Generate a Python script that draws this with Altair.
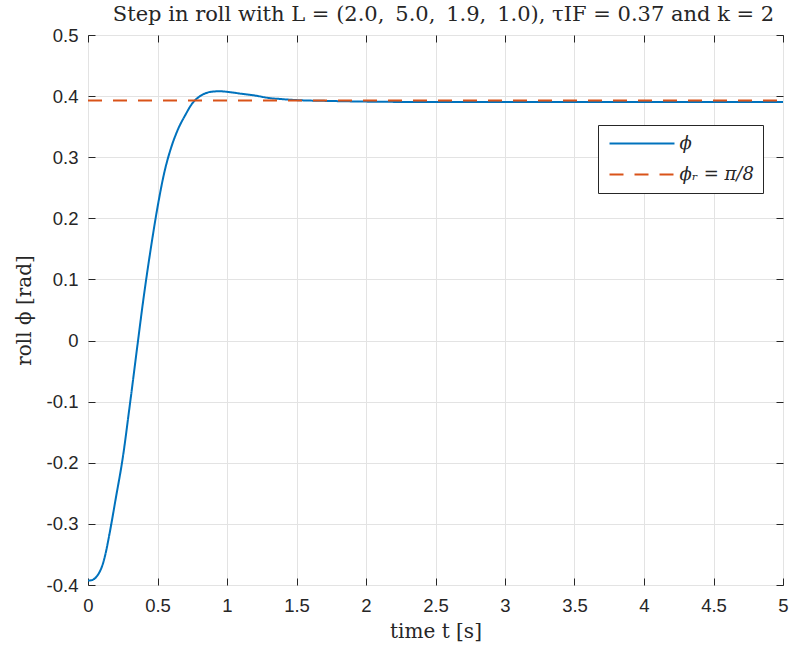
import math
import altair as alt
import pandas as pd

# ---- data ----
t_phi = [0.0, 0.025, 0.05, 0.075, 0.1, 0.125, 0.15, 0.2, 0.25, 0.3, 0.36, 0.4, 0.45,
         0.5, 0.55, 0.6, 0.65, 0.7, 0.75, 0.8, 0.85, 0.9, 0.95, 1.0, 1.1, 1.2, 1.3,
         1.4, 1.5, 1.75, 2.0, 2.5, 3.0, 3.5, 4.0, 4.5, 5.0]
phi = [-0.3927, -0.3922, -0.389, -0.382, -0.370, -0.350, -0.322, -0.258, -0.192,
       -0.107, 0.0, 0.07, 0.148, 0.218, 0.276, 0.317, 0.347, 0.369, 0.388, 0.399,
       0.405, 0.4075, 0.408, 0.407, 0.404, 0.401, 0.397, 0.395, 0.3935, 0.392, 0.391,
       0.3903, 0.3903, 0.3905, 0.3905, 0.3905, 0.3905]
t_ref = [0.0, 5.0]
phi_ref = [math.pi / 8, math.pi / 8]
series_names = ["ϕ", "ϕᵣ = π/8"]
series_colors = ["#0072BD", "#D95319"]
x_ticks = [0, 0.5, 1, 1.5, 2, 2.5, 3, 3.5, 4, 4.5, 5]
y_ticks = [-0.4, -0.3, -0.2, -0.1, 0, 0.1, 0.2, 0.3, 0.4, 0.5]
title_text = ("Step in roll with L = (2.0,\u2009 5.0,\u2009 1.9,\u2009 1.0), "
              "τIF = 0.37 and k = 2")
x_title = "time t [s]"
y_title = "roll ϕ [rad]"

df = pd.DataFrame({
    "t": t_phi + t_ref,
    "v": phi + phi_ref,
    "s": [series_names[0]] * len(t_phi) + [series_names[1]] * len(t_ref),
})

W, H = 695, 550
SERIF = "DejaVu Serif"
SANS = "Liberation Sans"
AX = "#262626"
GRID = "#e3e3e3"

xs = alt.Scale(domain=[0, 5], nice=False, zero=False)
ys = alt.Scale(domain=[-0.4, 0.5], nice=False, zero=False)
lab = "datum.value < -0.001 ? '-' + format(-datum.value, '.1~f') : format(abs(datum.value), '.1~f')"

main = alt.Chart(df).mark_line(strokeWidth=2, interpolate="monotone").encode(
    x=alt.X("t:Q", scale=xs, axis=alt.Axis(
        orient="bottom", values=x_ticks, grid=True, gridColor=GRID, domain=False,
        ticks=False, labelFont=SANS, labelFontSize=18.5, labelColor=AX, labelPadding=11,
        labelFlush=False, labelExpr=lab,
        title=x_title, titleFont=SERIF, titleFontSize=20,
        titleFontWeight="normal", titleColor=AX, titlePadding=7)),
    y=alt.Y("v:Q", scale=ys, axis=alt.Axis(
        orient="left", values=y_ticks, grid=True, gridColor=GRID, domain=False,
        ticks=False, labelFont=SANS, labelFontSize=18.5, labelColor=AX, labelPadding=10,
        labelExpr=lab, title=y_title, titleFont=SERIF, titleFontSize=20,
        titleFontWeight="normal", titleColor=AX, titlePadding=12)),
    color=alt.Color("s:N", scale=alt.Scale(domain=series_names, range=series_colors),
                    legend=alt.Legend(
                        orient="none", legendX=510, legendY=90, title=None,
                        symbolType="M-4,0L4,0", symbolSize=264, symbolStrokeWidth=2,
                        symbolOffset=25.5, labelOffset=28,
                        labelFont=SERIF, labelFontSize=18, labelColor=AX,
                        labelFontStyle="italic",
                        fillColor="white", strokeColor=AX, padding=9,
                        rowPadding=12)),
    strokeDash=alt.StrokeDash("s:N", scale=alt.Scale(domain=series_names,
                                                     range=[[1, 0], [14, 11]])),
)


def tick_layer(xo, yo):
    return alt.Chart(df).mark_line(opacity=0).encode(
        x=alt.X("t:Q", scale=xs, axis=alt.Axis(
            orient=xo, offset=-H, values=x_ticks, grid=False, domain=False, labels=False,
            ticks=True, tickSize=7, tickColor=AX, title=None)),
        y=alt.Y("v:Q", scale=ys, axis=alt.Axis(
            orient=yo, offset=-W, values=y_ticks, grid=False, domain=False, labels=False,
            ticks=True, tickSize=7, tickColor=AX, title=None)),
    )


chart = alt.layer(main, tick_layer("top", "right"), tick_layer("bottom", "left")).resolve_axis(
    x="independent", y="independent"
).properties(
    width=W, height=H,
    autosize=alt.AutoSizeParams(type="none"),
    padding={"left": 88, "top": 35, "right": 7, "bottom": 67},
    title=alt.Title(title_text, font=SERIF, fontSize=21, fontWeight="normal",
                    color=AX, offset=1, dx=8),
    background="white",
).configure_view(stroke=AX, strokeWidth=1)

chart.save("out.html", embed_options={"renderer": "svg", "actions": False})
